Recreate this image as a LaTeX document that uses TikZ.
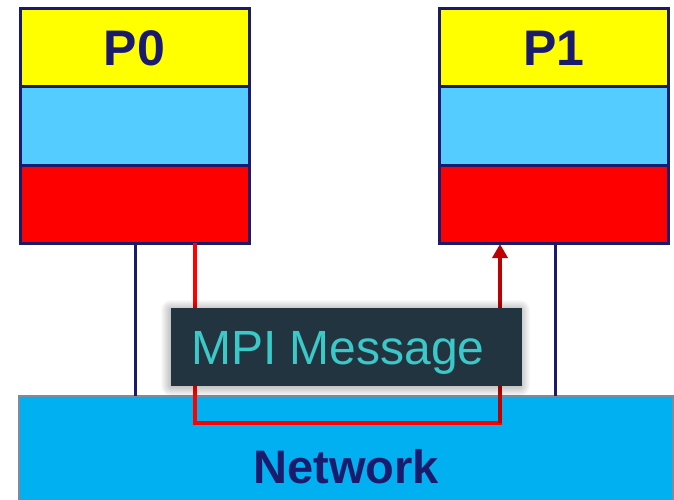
\documentclass[tikz,border=0pt]{standalone}
\usepackage{fontspec}
\setmainfont{Liberation Sans}
\usetikzlibrary{arrows.meta}

\definecolor{navyline}{HTML}{1B1B6E}
\definecolor{cellyellow}{HTML}{FFFF00}
\definecolor{cellcyan}{HTML}{55CCFF}
\definecolor{cellred}{HTML}{FF0000}
\definecolor{netfill}{HTML}{00B0F0}
\definecolor{netborder}{HTML}{7A8CA0}
\definecolor{msgfill}{HTML}{22343F}
\definecolor{msgtext}{HTML}{3AC8C8}
\definecolor{darkred}{HTML}{C00000}

\tikzset{
  cell/.style={draw=navyline, line width=3pt, minimum width=229pt, minimum height=78pt,
               inner sep=0pt, outer sep=0pt, text=navyline, font=\bfseries\fontsize{50}{50}\selectfont},
  link/.style={draw=navyline, line width=3pt},
  msgpath/.style={draw=cellred, line width=4pt},
  msgpathend/.style={draw=darkred, line width=3.5pt, -{Triangle[width=15pt,length=14pt]}},
}

\begin{document}
\begin{tikzpicture}[x=1pt,y=-1pt]
  \clip (0,0) rectangle (674,500);
  \fill[white] (0,0) rectangle (674,500);

  % network bar
  \node[draw=netborder, line width=1.5pt, fill=netfill, minimum width=654pt, minimum height=116pt,
        inner sep=0pt, outer sep=0pt] (net) at (346,454) {};
  \node[text=navyline, font=\bfseries\fontsize{47}{47}\selectfont] (netlabel) at (346,467) {Network};

  % process P0
  \node[cell, fill=cellyellow] (p0top) at (134.5,48) {P0};
  \node[cell, fill=cellcyan, anchor=north] (p0mid) at (p0top.south) {};
  \node[cell, fill=cellred, anchor=north] (p0bot) at (p0mid.south) {};

  % process P1
  \node[cell, fill=cellyellow] (p1top) at (554,48) {P1};
  \node[cell, fill=cellcyan, anchor=north] (p1mid) at (p1top.south) {};
  \node[cell, fill=cellred, anchor=north] (p1bot) at (p1mid.south) {};

  % links from the processes to the network
  \draw[link] (p0bot.south -| 135,0) -- (net.north -| 135,0);
  \draw[link] (p1bot.south -| 555,0) -- (net.north -| 555,0);

  % message route
  \coordinate (src) at (195,243);
  \coordinate (c1) at (195,423);
  \coordinate (c2) at (500,423);
  \coordinate (dst) at (500,244);
  \draw[msgpath] (src) -- (c1) -- ([xshift=2pt]c2);
  \draw[msgpathend] (c2) -- (dst);

  % soft shadow round the label
  \foreach \s in {1,...,10} {
    \fill[black, opacity=0.025, rounded corners=\s pt] (171-\s,308-\s+2) rectangle (522+\s-2,386+\s);
  }
  \node[fill=msgfill, minimum width=351pt, minimum height=78pt, inner sep=0pt, outer sep=0pt] (msg) at (346.5,347) {};
  \node[text=msgtext, font=\fontsize{48}{48}\selectfont, anchor=base west, inner sep=0pt] (msglabel)
        at (191,364) {MPI Message};
\end{tikzpicture}
\end{document}
